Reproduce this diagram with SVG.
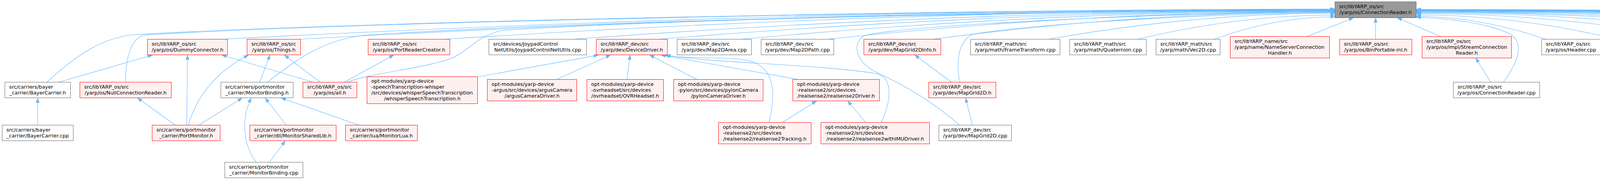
<svg xmlns="http://www.w3.org/2000/svg" width="7180" height="461" viewBox="0 0 7180 461">
<style>
rect{stroke-width:1}
.r rect{fill:#FFF0F0;stroke:#FF0000}
.w rect{fill:#FFFFFF;stroke:#666666}
.g rect{fill:#999999;stroke:#666666}
text{font-family:"DejaVu Sans","Liberation Sans",sans-serif;font-size:12.8px;fill:#000000}
.m{text-anchor:middle}
#edges path{fill:none;stroke:#63B8FF;stroke-width:1.1;marker-end:url(#ah)}
</style>
<defs>
<marker id="ah" viewBox="0 0 12 9" refX="12" refY="4.5" markerWidth="12" markerHeight="9" markerUnits="userSpaceOnUse" orient="auto">
<path d="M0,0 L12,4.5 L0,9 Z" fill="#63B8FF" stroke="#63B8FF" stroke-width="0.5"/>
</marker>
</defs>
<rect x="0" y="0" width="7180" height="461" fill="#FFFFFF"/>
<g id="edges">
<path d="M569,100.5 C1518,50.8 2468,24 3417.5,24"/>
<path d="M765,100.5 C1649,51.4 2533,25 3417.5,25"/>
<path d="M1137,100.5 C1897,51.8 2657,25.5 3417.5,25.5"/>
<path d="M1467,100.5 C2117,52.4 2767,26.5 3417.5,26.5"/>
<path d="M1686,100.5 C2263,53 2840,27.5 3417.5,27.5"/>
<path d="M1898,100.5 C2404.5,53.7 2911,28.5 3417.5,28.5"/>
<path d="M2118,100.5 C2551,54.4 2984,29.5 3417.5,29.5"/>
<path d="M2388,100.5 C2731,55.3 3074,31 3417.5,31"/>
<path d="M2684,100.5 C2928.5,57.3 3173,34 3417.5,34"/>
<path d="M2912,100.5 C3080.5,60.2 3249,38.5 3417.5,38.5"/>
<path d="M3108,100.5 C3211,63.1 3314,43 3417.5,43"/>
<path d="M3346,93.5 L3465,45.5"/>
<path d="M120,210.5 C185,150 255,98 340,89 C900,55 2500,24 3417.5,23"/>
<path d="M321,210.5 C322,150 333,100 368,90 C900,56 2500,25 3417.5,24"/>
<path d="M685,210.5 C760,150 835,100 935,90 C1400,58 2600,27 3417.5,25.5"/>
<path d="M887,210.5 C960,185 1110,172 1165,145 C1210,120 1225,92 1285,78 C1800,45 2800,28 3417.5,26.5"/>
<path d="M2456,320.5 C2400,270 2330,225 2245,186 C2190,160 2180,112 2212,92 C2290,65 3000,32 3417.5,30"/>
<path d="M2457,210.5 C2448,165 2450,105 2492,87 C2700,55 3150,35 3417.5,32"/>
<path d="M3521.5,100.5 L3521.5,45.5"/>
<path d="M3688,93.5 L3577,45.5"/>
<path d="M3816,210.5 L3778,148.5"/>
<path d="M3849,210.5 C3885,160 3905,110 3865,87 C3810,58 3700,47 3625.5,44"/>
<path d="M3957,100.5 C3846.5,62.5 3736,42 3625.5,42"/>
<path d="M4140,100.5 C3968.5,59.9 3797,38 3625.5,38"/>
<path d="M4348,100.5 C4107,57.6 3866,34.5 3625.5,34.5"/>
<path d="M4573,100.5 C4257,56.3 3941,32.5 3625.5,32.5"/>
<path d="M4775,100.5 C4392,55.3 4009,31 3625.5,31"/>
<path d="M4961,100.5 C4516,54.7 4070.5,30 3625.5,30"/>
<path d="M5208,100.5 C4680.5,54 4153,29 3625.5,29"/>
<path d="M5392,100.5 C4803,53.4 4214,28 3625.5,28"/>
<path d="M5665,100.5 C4985,53 4305,27.5 3625.5,27.5"/>
<path d="M5901,100.5 C5142.5,52.7 4384,27 3625.5,27"/>
<path d="M6110,100.5 C5282,52.4 4454,26.5 3625.5,26.5"/>
<path d="M6286,100.5 C5399,52.1 4512.5,26 3625.5,26"/>
<path d="M6460,100.5 C5515,51.8 4570.5,25.5 3625.5,25.5"/>
<path d="M6648,100.5 C5640.5,51.4 4633,25 3625.5,25"/>
<path d="M6820,100.5 C5755,51.1 4690.5,24.5 3625.5,24.5"/>
<path d="M6976.5,95 C5859.5,48.9 4742.5,24 3625.5,24"/>
<path d="M150,210.5 L390,141"/>
<path d="M96.5,320.5 L96.5,251"/>
<path d="M449,320.5 L352,251"/>
<path d="M478,320.5 L480,141"/>
<path d="M482,320.5 C500,260 540,190 636,141"/>
<path d="M509,320.5 L620,251"/>
<path d="M665,210.5 L691,141"/>
<path d="M802,210.5 L568,141"/>
<path d="M820,210.5 L728,141"/>
<path d="M881,210.5 L1008,141"/>
<path d="M733,320.5 L679,251"/>
<path d="M919,320.5 L720,251"/>
<path d="M656,415.5 C625,375 615,310 643,251"/>
<path d="M690,415.5 L730,361"/>
<path d="M1222,197 L1532,141"/>
<path d="M1425,203.5 L1563,141"/>
<path d="M1605,203.5 L1613,141"/>
<path d="M1784,203.5 L1663,141"/>
<path d="M2043,203.5 L1692,141"/>
<path d="M1969,313.5 C1985,240 1990,165 1900,152 C1800,145 1740,150 1702,141"/>
<path d="M2256,313.5 C2285,250 2285,195 2240,188 C2100,165 1800,160 1705,141"/>
<path d="M2003,313.5 L2090,258.5"/>
<path d="M2216,313.5 L2170,258.5"/>
<path d="M2436,210.5 L2342,141"/>
<path d="M2489,320.5 L2472,251"/>
</g>
<g id="n_root" class="g"><rect x="3417.5" y="4.5" width="208" height="41"/><text x="3428.5" y="21.1">src/libYARP_os/src</text><text x="3521.5" y="36.1" class="m">/yarp/os/ConnectionReader.h</text></g>
<g id="n_dummy" class="r"><rect x="377.5" y="100.5" width="205" height="40"/><text x="388.5" y="116.6">src/libYARP_os/src</text><text x="480" y="131.6" class="m">/yarp/os/DummyConnector.h</text></g>
<g id="n_things" class="r"><rect x="632.5" y="100.5" width="137" height="40"/><text x="643.5" y="116.6">src/libYARP_os/src</text><text x="701" y="131.6" class="m">/yarp/os/Things.h</text></g>
<g id="n_prc" class="r"><rect x="942.5" y="100.5" width="209" height="40"/><text x="953.5" y="116.6">src/libYARP_os/src</text><text x="1047" y="131.6" class="m">/yarp/os/PortReaderCreator.h</text></g>
<g id="n_joypad" class="w"><rect x="1251.5" y="100.5" width="250" height="40"/><text x="1262.5" y="116.6">src/devices/JoypadControl</text><text x="1376.5" y="131.6" class="m">NetUtils/JoypadControlNetUtils.cpp</text></g>
<g id="n_devicedriver" class="r"><rect x="1526.5" y="100.5" width="182" height="40"/><text x="1537.5" y="116.6">src/libYARP_dev/src</text><text x="1617.5" y="131.6" class="m">/yarp/dev/DeviceDriver.h</text></g>
<g id="n_map2darea" class="w"><rect x="1733.5" y="100.5" width="190" height="40"/><text x="1744.5" y="116.6">src/libYARP_dev/src</text><text x="1828.5" y="131.6" class="m">/yarp/dev/Map2DArea.cpp</text></g>
<g id="n_map2dpath" class="w"><rect x="1948.5" y="100.5" width="186" height="40"/><text x="1959.5" y="116.6">src/libYARP_dev/src</text><text x="2041.5" y="131.6" class="m">/yarp/dev/Map2DPath.cpp</text></g>
<g id="n_mapgrid2dinfo" class="r"><rect x="2211.5" y="100.5" width="197" height="40"/><text x="2222.5" y="116.6">src/libYARP_dev/src</text><text x="2310" y="131.6" class="m">/yarp/dev/MapGrid2DInfo.h</text></g>
<g id="n_frametransform" class="w"><rect x="2484.5" y="100.5" width="229" height="40"/><text x="2495.5" y="116.6">src/libYARP_math/src</text><text x="2599" y="131.6" class="m">/yarp/math/FrameTransform.cpp</text></g>
<g id="n_quaternion" class="w"><rect x="2738.5" y="100.5" width="196" height="40"/><text x="2749.5" y="116.6">src/libYARP_math/src</text><text x="2836.5" y="131.6" class="m">/yarp/math/Quaternion.cpp</text></g>
<g id="n_vec2d" class="w"><rect x="2959.5" y="100.5" width="164" height="40"/><text x="2970.5" y="116.6">src/libYARP_math/src</text><text x="3041.5" y="131.6" class="m">/yarp/math/Vec2D.cpp</text></g>
<g id="n_nameserver" class="r"><rect x="3149.5" y="93.5" width="254" height="55"/><text x="3160.5" y="109.6">src/libYARP_name/src</text><text x="3160.5" y="124.6">/yarp/name/NameServerConnection</text><text x="3276.5" y="139.6" class="m">Handler.h</text></g>
<g id="n_binportable" class="r"><rect x="3429.5" y="100.5" width="185" height="40"/><text x="3440.5" y="116.6">src/libYARP_os/src</text><text x="3522" y="131.6" class="m">/yarp/os/BinPortable-inl.h</text></g>
<g id="n_streamcr" class="r"><rect x="3640.5" y="93.5" width="229" height="55"/><text x="3651.5" y="109.6">src/libYARP_os/src</text><text x="3651.5" y="124.6">/yarp/os/impl/StreamConnection</text><text x="3755" y="139.6" class="m">Reader.h</text></g>
<g id="n_header" class="w"><rect x="3946.5" y="100.5" width="150" height="40"/><text x="3957.5" y="116.6">src/libYARP_os/src</text><text x="4021.5" y="131.6" class="m">/yarp/os/Header.cpp</text></g>
<g id="n_inputprotocol" class="r"><rect x="4121.5" y="100.5" width="176" height="40"/><text x="4132.5" y="116.6">src/libYARP_os/src</text><text x="4209.5" y="131.6" class="m">/yarp/os/InputProtocol.h</text></g>
<g id="n_managedbytes" class="w"><rect x="4322.5" y="100.5" width="202" height="40"/><text x="4333.5" y="116.6">src/libYARP_os/src</text><text x="4423.5" y="131.6" class="m">/yarp/os/ManagedBytes.cpp</text></g>
<g id="n_portablepair" class="w"><rect x="4549.5" y="100.5" width="182" height="40"/><text x="4560.5" y="116.6">src/libYARP_os/src</text><text x="4640.5" y="131.6" class="m">/yarp/os/PortablePair.cpp</text></g>
<g id="n_stamp" class="w"><rect x="4756.5" y="100.5" width="146" height="40"/><text x="4767.5" y="116.6">src/libYARP_os/src</text><text x="4829.5" y="131.6" class="m">/yarp/os/Stamp.cpp</text></g>
<g id="n_sysinfo" class="w"><rect x="4928.5" y="100.5" width="237" height="40"/><text x="4939.5" y="116.6">src/libYARP_os/src</text><text x="5047" y="131.6" class="m">/yarp/os/SystemInfoSerializer.cpp</text></g>
<g id="n_value" class="w"><rect x="5191.5" y="100.5" width="141" height="40"/><text x="5202.5" y="116.6">src/libYARP_os/src</text><text x="5262" y="131.6" class="m">/yarp/os/Value.cpp</text></g>
<g id="n_connrecorder" class="r"><rect x="5357.5" y="100.5" width="252" height="40"/><text x="5368.5" y="116.6">src/libYARP_os/src</text><text x="5483.5" y="131.6" class="m">/yarp/os/impl/ConnectionRecorder.h</text></g>
<g id="n_portcommand" class="r"><rect x="5634.5" y="100.5" width="215" height="40"/><text x="5645.5" y="116.6">src/libYARP_os/src</text><text x="5742" y="131.6" class="m">/yarp/os/impl/PortCommand.h</text></g>
<g id="n_storable" class="w"><rect x="5874.5" y="100.5" width="191" height="40"/><text x="5885.5" y="116.6">src/libYARP_os/src</text><text x="5970" y="131.6" class="m">/yarp/os/impl/Storable.cpp</text></g>
<g id="n_image" class="w"><rect x="6090.5" y="100.5" width="150" height="40"/><text x="6101.5" y="116.6">src/libYARP_sig/src</text><text x="6165.5" y="131.6" class="m">/yarp/sig/Image.cpp</text></g>
<g id="n_matrix" class="w"><rect x="6265.5" y="100.5" width="150" height="40"/><text x="6276.5" y="116.6">src/libYARP_sig/src</text><text x="6340.5" y="131.6" class="m">/yarp/sig/Matrix.cpp</text></g>
<g id="n_pointcloud" class="r"><rect x="6439.5" y="100.5" width="164" height="40"/><text x="6450.5" y="116.6">src/libYARP_sig/src</text><text x="6521.5" y="131.6" class="m">/yarp/sig/PointCloud.h</text></g>
<g id="n_sound" class="w"><rect x="6628.5" y="100.5" width="149" height="40"/><text x="6639.5" y="116.6">src/libYARP_sig/src</text><text x="6703" y="131.6" class="m">/yarp/sig/Sound.cpp</text></g>
<g id="n_vector" class="w"><rect x="6802.5" y="100.5" width="148" height="40"/><text x="6813.5" y="116.6">src/libYARP_sig/src</text><text x="6876.5" y="131.6" class="m">/yarp/sig/Vector.cpp</text></g>
<g id="n_wiretwiddler" class="w"><rect x="6976.5" y="93.5" width="198" height="55"/><text x="6987.5" y="109.6">src/libYARP_wire_rep</text><text x="6987.5" y="124.6">_utils/src/yarp/wire</text><text x="7075.5" y="139.6" class="m">_rep_utils/WireTwiddler.cpp</text></g>
<g id="n_bayerh" class="w"><rect x="12.5" y="210.5" width="168" height="40"/><text x="23.5" y="226.6">src/carriers/bayer</text><text x="96.5" y="241.6" class="m">_carrier/BayerCarrier.h</text></g>
<g id="n_nullcr" class="r"><rect x="204.5" y="210.5" width="234" height="40"/><text x="215.5" y="226.6">src/libYARP_os/src</text><text x="321.5" y="241.6" class="m">/yarp/os/NullConnectionReader.h</text></g>
<g id="n_monitorbindingh" class="w"><rect x="565.5" y="210.5" width="185" height="40"/><text x="576.5" y="226.6">src/carriers/portmonitor</text><text x="658" y="241.6" class="m">_carrier/MonitorBinding.h</text></g>
<g id="n_allh" class="r"><rect x="775.5" y="210.5" width="138" height="40"/><text x="786.5" y="226.6">src/libYARP_os/src</text><text x="844.5" y="241.6" class="m">/yarp/os/all.h</text></g>
<g id="n_whisper" class="r"><rect x="939.5" y="196.5" width="283" height="69"/><text x="950.5" y="212.1">opt-modules/yarp-device</text><text x="950.5" y="227.1">-speechTranscription-whisper</text><text x="950.5" y="242.1">/src/devices/whisperSpeechTranscription</text><text x="1081" y="257.1" class="m">/whisperSpeechTranscription.h</text></g>
<g id="n_argus" class="r"><rect x="1247.5" y="203.5" width="229" height="55"/><text x="1258.5" y="219.6">opt-modules/yarp-device</text><text x="1258.5" y="234.6">-argus/src/devices/argusCamera</text><text x="1362" y="249.6" class="m">/argusCameraDriver.h</text></g>
<g id="n_ovrheadset" class="r"><rect x="1502.5" y="203.5" width="196" height="55"/><text x="1513.5" y="219.6">opt-modules/yarp-device</text><text x="1513.5" y="234.6">-ovrheadset/src/devices</text><text x="1600.5" y="249.6" class="m">/ovrheadset/OVRHeadset.h</text></g>
<g id="n_pylon" class="r"><rect x="1724.5" y="203.5" width="229" height="55"/><text x="1735.5" y="219.6">opt-modules/yarp-device</text><text x="1735.5" y="234.6">-pylon/src/devices/pylonCamera</text><text x="1839" y="249.6" class="m">/pylonCameraDriver.h</text></g>
<g id="n_rs2driver" class="r"><rect x="2029.5" y="203.5" width="222" height="55"/><text x="2040.5" y="219.6">opt-modules/yarp-device</text><text x="2040.5" y="234.6">-realsense2/src/devices</text><text x="2140.5" y="249.6" class="m">/realsense2/realsense2Driver.h</text></g>
<g id="n_mapgrid2dh" class="r"><rect x="2377.5" y="210.5" width="172" height="40"/><text x="2388.5" y="226.6">src/libYARP_dev/src</text><text x="2463.5" y="241.6" class="m">/yarp/dev/MapGrid2D.h</text></g>
<g id="n_crcpp" class="w"><rect x="3720.5" y="210.5" width="221" height="40"/><text x="3731.5" y="226.6">src/libYARP_os/src</text><text x="3831" y="241.6" class="m">/yarp/os/ConnectionReader.cpp</text></g>
<g id="n_bayercpp" class="w"><rect x="5.5" y="320.5" width="182" height="40"/><text x="16.5" y="336.6">src/carriers/bayer</text><text x="96.5" y="351.6" class="m">_carrier/BayerCarrier.cpp</text></g>
<g id="n_portmonitorh" class="r"><rect x="389.5" y="320.5" width="174" height="40"/><text x="400.5" y="336.6">src/carriers/portmonitor</text><text x="476.5" y="351.6" class="m">_carrier/PortMonitor.h</text></g>
<g id="n_monitorsharedlib" class="r"><rect x="639.5" y="320.5" width="221" height="40"/><text x="650.5" y="336.6">src/carriers/portmonitor</text><text x="750" y="351.6" class="m">_carrier/dll/MonitorSharedLib.h</text></g>
<g id="n_monitorlua" class="r"><rect x="884.5" y="320.5" width="184" height="40"/><text x="895.5" y="336.6">src/carriers/portmonitor</text><text x="976.5" y="351.6" class="m">_carrier/lua/MonitorLua.h</text></g>
<g id="n_rs2tracking" class="r"><rect x="1839.5" y="313.5" width="237" height="55"/><text x="1850.5" y="329.6">opt-modules/yarp-device</text><text x="1850.5" y="344.6">-realsense2/src/devices</text><text x="1958" y="359.6" class="m">/realsense2/realsense2Tracking.h</text></g>
<g id="n_rs2withimu" class="r"><rect x="2101.5" y="313.5" width="278" height="55"/><text x="2112.5" y="329.6">opt-modules/yarp-device</text><text x="2112.5" y="344.6">-realsense2/src/devices</text><text x="2240.5" y="359.6" class="m">/realsense2/realsense2withIMUDriver.h</text></g>
<g id="n_mapgrid2dcpp" class="w"><rect x="2403.5" y="320.5" width="186" height="40"/><text x="2414.5" y="336.6">src/libYARP_dev/src</text><text x="2496.5" y="351.6" class="m">/yarp/dev/MapGrid2D.cpp</text></g>
<g id="n_monitorbindingcpp" class="w"><rect x="575.5" y="415.5" width="200" height="40"/><text x="586.5" y="431.6">src/carriers/portmonitor</text><text x="675.5" y="446.6" class="m">_carrier/MonitorBinding.cpp</text></g>
</svg>
